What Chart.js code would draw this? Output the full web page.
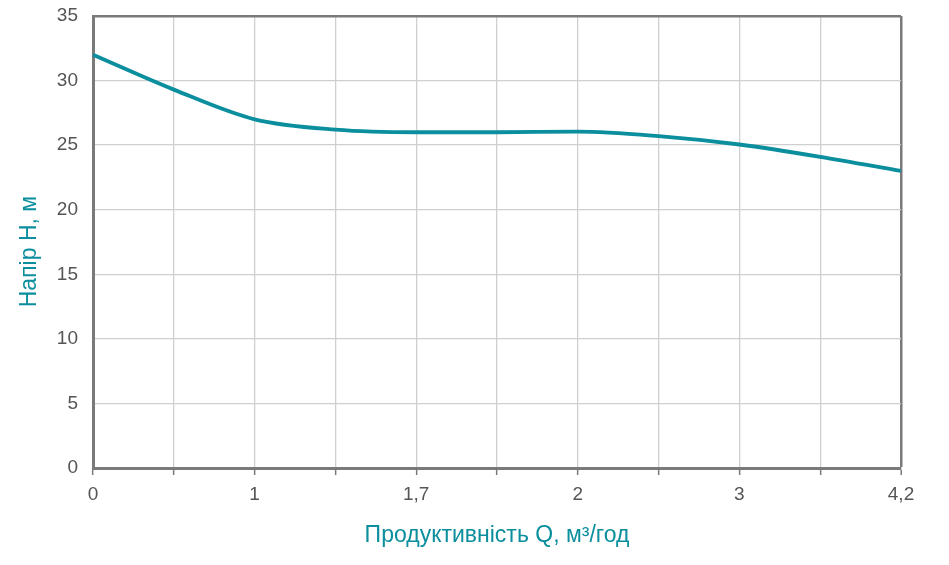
<!DOCTYPE html>
<html>
<head>
<meta charset="utf-8">
<script src="https://cdn.jsdelivr.net/npm/chart.js@4"></script>
<style>
html,body{margin:0;padding:0;background:#fff;}
#wrap{width:949px;height:565px;}
</style>
</head>
<body>
<div id="wrap"><canvas id="c" width="949" height="565"></canvas></div>
<script>
const categories = ['0','','1','','1,7','','2','','3','','4,2'];
const headValues = [32, 29.3, 27.0, 26.2, 26.0, 26.0, 26.05, 25.7, 25.05, 24.1, 23.0];
const yTicks = [0,5,10,15,20,25,30,35];
const xTitle = 'Продуктивність Q, м³/год';
const yTitle = 'Напір Н, м\u00A0\u00A0\u00A0';

const teal = '#0b8e9d';
const axisDark = '#7a7a7a';
const gridLight = '#cfcfcf';
const tickFont = {family:'"Liberation Sans", Arial, sans-serif', size:19};
const titleFont = {family:'"Liberation Sans", Arial, sans-serif', size:23};

new Chart(document.getElementById('c'), {
  type:'line',
  data:{
    labels: categories,
    datasets:[{
      data: headValues,
      borderColor: teal,
      borderWidth: 3.8,
      pointRadius: 0,
      tension: 0.4,
      cubicInterpolationMode: 'monotone',
      fill:false
    }]
  },
  options:{
    responsive:false,
    animation:false,
    devicePixelRatio:1,
    layout:{autoPadding:false,padding:{left:0,right:48,top:16,bottom:0}},
    plugins:{legend:{display:false},tooltip:{enabled:false}},
    scales:{
      x:{
        type:'category',
        offset:false,
        afterFit:(s)=>{s.height=97;},
        grid:{
          color:(ctx)=> ctx.index === categories.length-1 ? axisDark : gridLight,
          lineWidth:(ctx)=> ctx.index === categories.length-1 ? 2.5 : 1.3,
          tickColor: axisDark,
          tickLength:7,
          tickWidth:1.5
        },
        border:{color:axisDark,width:3},
        ticks:{autoSkip:false,maxRotation:0,color:'#555',font:tickFont,padding:8},
        title:{display:true,text:xTitle,color:teal,font:titleFont,padding:{top:0,bottom:16}}
      },
      y:{
        min:0,max:35,
        afterFit:(s)=>{s.width=93;s.paddingTop=0;s.paddingBottom=0;},
        afterBuildTicks:(s)=>{s.ticks = yTicks.map(v=>({value:v}));},
        grid:{
          color:(ctx)=> ctx.tick && ctx.tick.value === 35 ? axisDark : gridLight,
          lineWidth:(ctx)=> ctx.tick && ctx.tick.value === 35 ? 2.5 : 1.3,
          drawTicks:false
        },
        border:{color:axisDark,width:3},
        ticks:{color:'#555',font:tickFont,padding:15},
        title:{display:true,text:yTitle,color:teal,font:titleFont,padding:{top:16,bottom:0}}
      }
    }
  }
});
</script>
</body>
</html>
